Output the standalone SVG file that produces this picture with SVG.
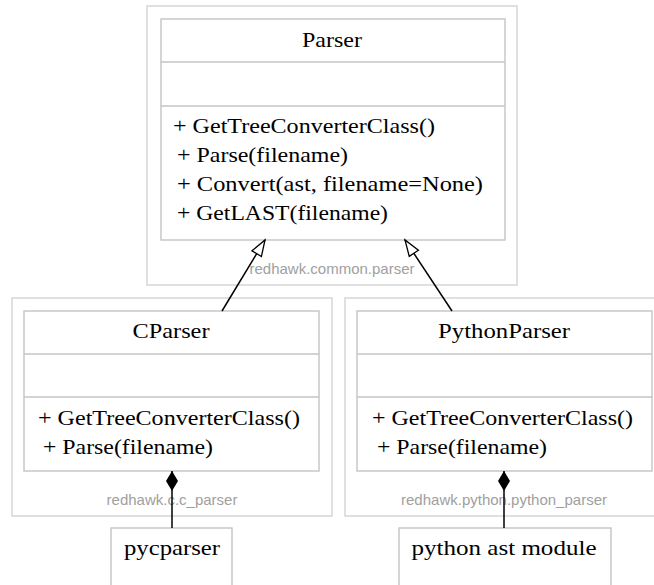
<svg xmlns="http://www.w3.org/2000/svg" width="654" height="585" viewBox="0 0 654 585">
  <defs>
    <style>
      .pkg { fill: #ffffff; stroke: #d6d6d6; stroke-width: 1.5; }
      .cls { fill: #ffffff; stroke: #c4c4c4; stroke-width: 1.4; }
      .div { stroke: #c4c4c4; stroke-width: 1.4; }
      .t { font-family: "Liberation Serif", "Times New Roman", serif; font-size: 22px; fill: #000000; }
      .mid { text-anchor: middle; }
      .pl { font-family: "Liberation Sans", Arial, sans-serif; font-size: 15px; fill: #a0a0a0; text-anchor: middle; }
      .edge { stroke: #000000; stroke-width: 1.5; fill: none; }
    </style>
    <marker id="inherit" markerWidth="20" markerHeight="14" refX="17" refY="7" orient="auto" markerUnits="userSpaceOnUse">
      <path d="M1,1.5 L17,7 L1,12.5 Z" fill="#ffffff" stroke="#000000" stroke-width="1.3"/>
    </marker>
    <marker id="compose" markerWidth="24" markerHeight="14" refX="1" refY="7" orient="auto" markerUnits="userSpaceOnUse">
      <path d="M1,7 L11,1 L21,7 L11,13 Z" fill="#000000"/>
    </marker>
  </defs>

  <!-- packages -->
  <g id="pkg-common">
    <rect class="pkg" x="147" y="6" width="370" height="279"/>
    <text class="pl" x="332" y="274">redhawk.common.parser</text>
  </g>
  <g id="pkg-c">
    <rect class="pkg" x="12" y="298" width="320" height="218"/>
    <text class="pl" x="172" y="505">redhawk.c.c_parser</text>
  </g>
  <g id="pkg-python">
    <rect class="pkg" x="345" y="298" width="330" height="218"/>
    <text class="pl" x="504" y="505">redhawk.python.python_parser</text>
  </g>

  <!-- classes -->
  <g id="Parser">
    <rect class="cls" x="161" y="19" width="344" height="221"/>
    <line class="div" x1="161" y1="62" x2="505" y2="62"/>
    <line class="div" x1="161" y1="106" x2="505" y2="106"/>
    <text class="t mid" x="332" y="47" textLength="60" lengthAdjust="spacingAndGlyphs">Parser</text>
    <text class="t" x="173" y="133" textLength="262" lengthAdjust="spacingAndGlyphs">+ GetTreeConverterClass()</text>
    <text class="t" x="177" y="162" textLength="171" lengthAdjust="spacingAndGlyphs">+ Parse(filename)</text>
    <text class="t" x="177" y="191" textLength="306" lengthAdjust="spacingAndGlyphs">+ Convert(ast, filename=None)</text>
    <text class="t" x="177" y="220" textLength="211" lengthAdjust="spacingAndGlyphs">+ GetLAST(filename)</text>
  </g>

  <g id="CParser">
    <rect class="cls" x="24" y="311" width="295" height="160"/>
    <line class="div" x1="24" y1="354" x2="319" y2="354"/>
    <line class="div" x1="24" y1="397" x2="319" y2="397"/>
    <text class="t mid" x="171" y="338" textLength="77" lengthAdjust="spacingAndGlyphs">CParser</text>
    <text class="t" x="38" y="425" textLength="262" lengthAdjust="spacingAndGlyphs">+ GetTreeConverterClass()</text>
    <text class="t" x="43" y="454" textLength="170" lengthAdjust="spacingAndGlyphs">+ Parse(filename)</text>
  </g>

  <g id="PythonParser">
    <rect class="cls" x="357" y="311" width="295" height="160"/>
    <line class="div" x1="357" y1="354" x2="652" y2="354"/>
    <line class="div" x1="357" y1="397" x2="652" y2="397"/>
    <text class="t mid" x="504" y="338" textLength="132" lengthAdjust="spacingAndGlyphs">PythonParser</text>
    <text class="t" x="372" y="425" textLength="261" lengthAdjust="spacingAndGlyphs">+ GetTreeConverterClass()</text>
    <text class="t" x="377" y="454" textLength="170" lengthAdjust="spacingAndGlyphs">+ Parse(filename)</text>
  </g>

  <g id="pycparser">
    <rect class="cls" x="111" y="528" width="121" height="70"/>
    <text class="t mid" x="172" y="555" textLength="96" lengthAdjust="spacingAndGlyphs">pycparser</text>
  </g>

  <g id="python-ast-module">
    <rect class="cls" x="399" y="528" width="212" height="70"/>
    <text class="t mid" x="504" y="555" textLength="185" lengthAdjust="spacingAndGlyphs">python ast module</text>
  </g>

  <!-- connectors -->
  <g id="connectors">
    <line class="edge" x1="222" y1="311" x2="265" y2="240" marker-end="url(#inherit)"/>
    <line class="edge" x1="452" y1="311" x2="405" y2="240" marker-end="url(#inherit)"/>
    <line class="edge" x1="172" y1="471" x2="172" y2="528" marker-start="url(#compose)"/>
    <line class="edge" x1="504" y1="471" x2="504" y2="528" marker-start="url(#compose)"/>
  </g>
</svg>
